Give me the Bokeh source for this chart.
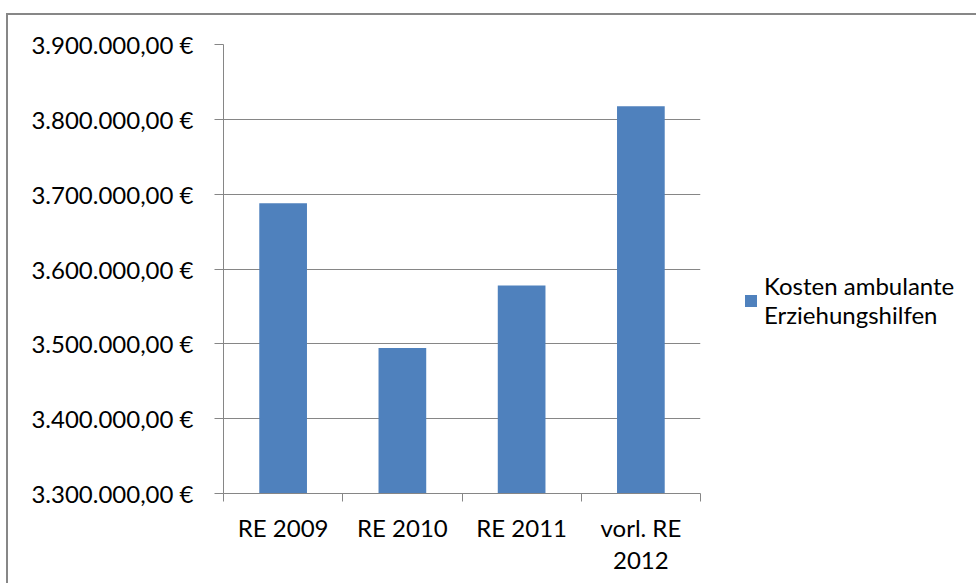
from bokeh.plotting import figure
from bokeh.layouts import row
from bokeh.models import (FixedTicker, Range1d, Legend, LegendItem, ColumnDataSource)
from bokeh.embed import file_html
from bokeh.resources import INLINE

categories = ["RE 2009", "RE 2010", "RE 2011", "vorl. RE\n2012"]
values = [3688000, 3494500, 3578000, 3817500]
series_name = "Kosten ambulante\nErziehungshilfen"
y_ticks = [3300000, 3400000, 3500000, 3600000, 3700000, 3800000, 3900000]

FONT = "Lato"
GRAY = "#868686"
BAR = "#4F81BD"

OFF_X = 8   # chart-area border offset (left margin + border)
OFF_Y = 15  # chart-area border offset (top margin + border)
H = 583 - OFF_Y
W_MAIN = 702 - OFF_X
W_LEG = 976 - 702


def euro(v):
    s = f"{v:,.2f}".replace(",", "X").replace(".", ",").replace("X", ".")
    return s + " €"


xs = [i + 1 for i in range(len(categories))]
source = ColumnDataSource(dict(x=xs, top=values, cat=categories))

p = figure(width=W_MAIN, height=H, output_backend="svg", toolbar_location=None,
           x_range=Range1d(0.5, len(categories) + 0.5),
           y_range=Range1d(y_ticks[0], y_ticks[-1]),
           min_border_left=223 - OFF_X, min_border_right=2,
           min_border_top=44 - OFF_Y, min_border_bottom=90)
p.outline_line_color = None
p.background_fill_color = "white"
p.border_fill_color = "white"

r = p.vbar(x="x", top="top", bottom=y_ticks[0], width=0.4, source=source,
           fill_color=BAR, line_color=None)

# grid
p.xgrid.visible = False
p.ygrid.ticker = FixedTicker(ticks=y_ticks)
p.ygrid.grid_line_color = GRAY
p.ygrid.grid_line_width = 1

# y axis
ya = p.yaxis[0]
ya.ticker = FixedTicker(ticks=y_ticks, minor_ticks=[])
ya.major_label_overrides = {t: euro(t) for t in y_ticks}
ya.axis_line_color = GRAY
ya.major_tick_line_color = GRAY
ya.major_tick_out = 9
ya.major_tick_in = 0
ya.minor_tick_line_color = None
ya.major_label_standoff = 21
ya.major_label_text_font = FONT
ya.major_label_text_font_size = "24px"
ya.major_label_text_color = "#000000"

# x axis
xa = p.xaxis[0]
xa.ticker = FixedTicker(ticks=xs, minor_ticks=[i + 0.5 for i in range(len(categories) + 1)])
xa.major_label_overrides = {x: c for x, c in zip(xs, categories)}
xa.axis_line_color = GRAY
xa.major_tick_line_color = None
xa.major_tick_out = 0
xa.major_tick_in = 0
xa.minor_tick_line_color = GRAY
xa.minor_tick_out = 8
xa.minor_tick_in = 0
xa.major_label_standoff = 11
xa.major_label_text_font = FONT
xa.major_label_text_font_size = "24px"
xa.major_label_text_line_height = 1.11
xa.major_label_text_color = "#000000"

# legend panel (separate canvas to the right of the plot area)
pl = figure(width=W_LEG, height=H, output_backend="svg", toolbar_location=None,
            x_range=Range1d(-20, -19), y_range=Range1d(y_ticks[0], y_ticks[-1]),
            x_axis_type=None, y_axis_type=None, min_border=0)
pl.outline_line_color = None
pl.xgrid.visible = False
pl.ygrid.visible = False
pl.border_fill_color = "white"
# same series (lies outside this canvas' x-range, only its legend key is shown)
key = pl.vbar(x="x", top="top", bottom=y_ticks[0], width=0.4, source=source,
              fill_color=BAR, line_color=None)
legend = Legend(items=[LegendItem(label=series_name, renderers=[key])],
                location=(41, 164), padding=0, margin=0,
                border_line_color=None, background_fill_alpha=0,
                glyph_width=15, glyph_height=15, label_standoff=6,
                label_text_font=FONT, label_text_font_size="24px",
                label_text_color="#000000")
pl.add_layout(legend)

layout = row(p, pl, spacing=0)
layout.styles = {"margin-left": "6px", "margin-top": "13px",
                 "border-left": "2px solid #878787", "border-top": "2px solid #878787"}

open("out.html", "w").write(file_html(layout, INLINE))
